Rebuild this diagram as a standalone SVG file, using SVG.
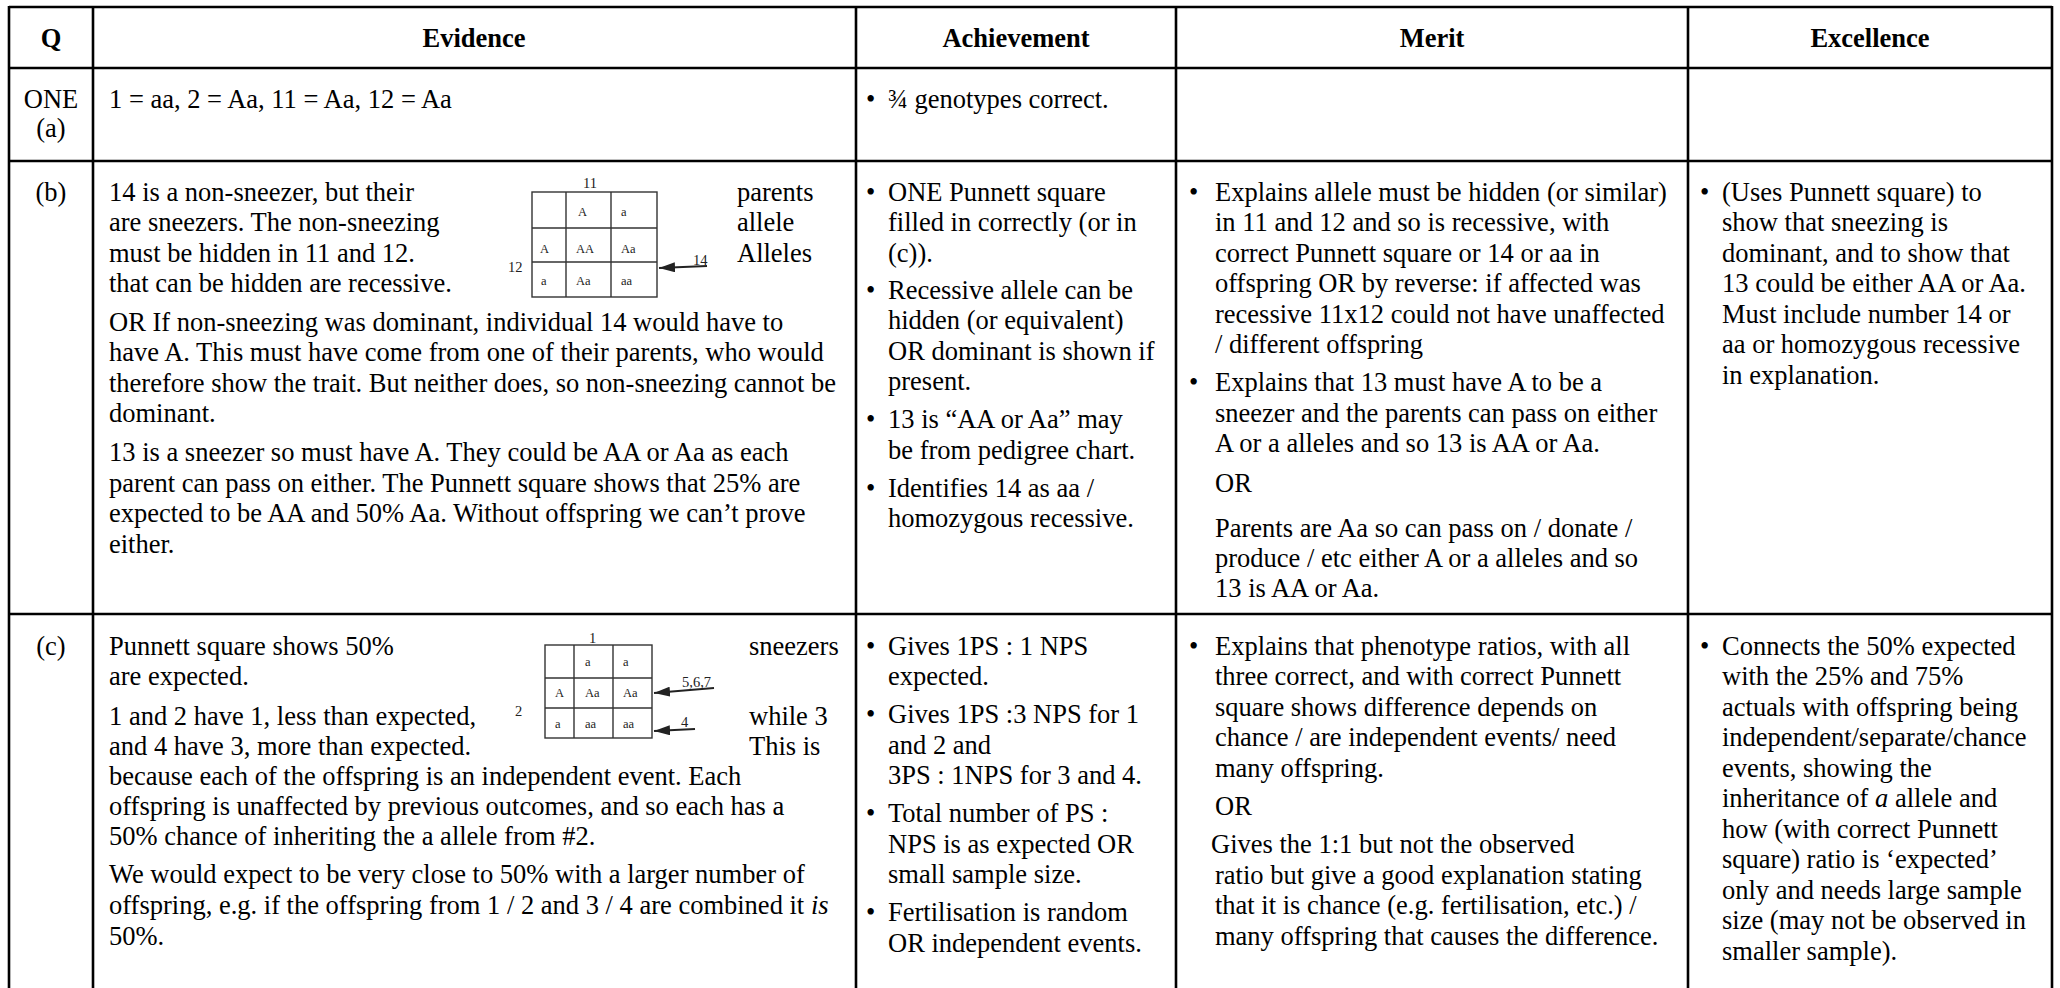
<svg xmlns="http://www.w3.org/2000/svg" width="2060" height="988" viewBox="0 0 2060 988">
<style>
.t{font-family:"Liberation Serif","Times New Roman",serif;font-size:26.5px;fill:#000}
.h{font-weight:bold;text-anchor:middle}
.m{text-anchor:middle}
.g{stroke:#000;stroke-width:2.6;fill:none}
.pg{stroke:#333;stroke-width:1.4;fill:none}
.ps{font-family:"Liberation Serif","Times New Roman",serif;font-size:12.5px;fill:#222}
.lb{font-family:"Liberation Serif","Times New Roman",serif;font-size:14.5px;fill:#222}
.ar{stroke:#222;stroke-width:2;fill:none;marker-end:url(#ah)}
</style>
<defs>
<marker id="ah" markerUnits="userSpaceOnUse" markerWidth="16" markerHeight="10" refX="16" refY="5" orient="auto">
<path d="M0,0 L16,5 L0,10 z" fill="#222"/>
</marker>
</defs>
<rect width="2060" height="988" fill="#fff"/>
<g id="grid" class="g">
<line x1="9" y1="7" x2="2052" y2="7"/>
<line x1="9" y1="68" x2="2052" y2="68"/>
<line x1="9" y1="161" x2="2052" y2="161"/>
<line x1="9" y1="614" x2="2052" y2="614"/>
<line x1="9" y1="6" x2="9" y2="988"/>
<line x1="93" y1="6" x2="93" y2="988"/>
<line x1="856" y1="6" x2="856" y2="988"/>
<line x1="1176" y1="6" x2="1176" y2="988"/>
<line x1="1688" y1="6" x2="1688" y2="988"/>
<line x1="2052" y1="6" x2="2052" y2="988"/>
</g>
<g id="header" class="t h">
<text x="51" y="47">Q</text>
<text x="474" y="47">Evidence</text>
<text x="1016" y="47">Achievement</text>
<text x="1432" y="47">Merit</text>
<text x="1870" y="47">Excellence</text>
</g>
<g id="q-labels" class="t m">
<text x="51" y="108">ONE</text>
<text x="51" y="137">(a)</text>
<text x="51" y="201">(b)</text>
<text x="51" y="655">(c)</text>
</g>
<g id="ev-a" class="t">
<text x="109" y="108">1 = aa, 2 = Aa, 11 = Aa, 12 = Aa</text>
</g>
<g id="ach-a" class="t">
<text x="866" y="108">•</text>
<text x="888" y="108">¾ genotypes correct.</text>
</g>
<g id="ev-b" class="t">
<text x="109" y="201">14 is a non-sneezer, but their</text>
<text x="109" y="231">are sneezers. The non-sneezing</text>
<text x="109" y="262">must be hidden in 11 and 12.</text>
<text x="109" y="292">that can be hidden are recessive.</text>
<text x="737" y="201">parents</text>
<text x="737" y="231">allele</text>
<text x="737" y="262">Alleles</text>
<text x="109" y="331">OR If non-sneezing was dominant, individual 14 would have to</text>
<text x="109" y="361">have A. This must have come from one of their parents, who would</text>
<text x="109" y="392">therefore show the trait. But neither does, so non-sneezing cannot be</text>
<text x="109" y="422">dominant.</text>
<text x="109" y="461">13 is a sneezer so must have A. They could be AA or Aa as each</text>
<text x="109" y="492">parent can pass on either. The Punnett square shows that 25% are</text>
<text x="109" y="522">expected to be AA and 50% Aa. Without offspring we can’t prove</text>
<text x="109" y="553">either.</text>
</g>
<g id="punnett-b">
<g class="pg">
<rect x="532" y="192" width="125" height="105"/>
<line x1="566" y1="192" x2="566" y2="297"/>
<line x1="611" y1="192" x2="611" y2="297"/>
<line x1="532" y1="228" x2="657" y2="228"/>
<line x1="532" y1="262" x2="657" y2="262"/>
</g>
<g class="ps">
<text x="578" y="216">A</text>
<text x="621" y="216">a</text>
<text x="540" y="253">A</text>
<text x="576" y="253">AA</text>
<text x="621" y="253">Aa</text>
<text x="541" y="285">a</text>
<text x="576" y="285">Aa</text>
<text x="621" y="285">aa</text>
</g>
<g class="lb">
<text x="583" y="188">11</text>
<text x="508" y="272">12</text>
<text x="693" y="265">14</text>
</g>
</g>
<g id="ev-c" class="t">
<text x="109" y="655">Punnett square shows 50%</text>
<text x="749" y="655">sneezers</text>
<text x="109" y="685">are expected.</text>
<text x="109" y="725">1 and 2 have 1, less than expected,</text>
<text x="749" y="725">while 3</text>
<text x="109" y="755">and 4 have 3, more than expected.</text>
<text x="749" y="755">This is</text>
<text x="109" y="785">because each of the offspring is an independent event. Each</text>
<text x="109" y="815">offspring is unaffected by previous outcomes, and so each has a</text>
<text x="109" y="845">50% chance of inheriting the a allele from #2.</text>
<text x="109" y="883">We would expect to be very close to 50% with a larger number of</text>
<text x="109" y="914">offspring, e.g. if the offspring from 1 / 2 and 3 / 4 are combined it <tspan font-style="italic">is</tspan></text>
<text x="109" y="945">50%.</text>
</g>
<g id="punnett-c">
<g class="pg">
<rect x="545" y="645" width="107" height="93"/>
<line x1="574" y1="645" x2="574" y2="738"/>
<line x1="613" y1="645" x2="613" y2="738"/>
<line x1="545" y1="678" x2="652" y2="678"/>
<line x1="545" y1="708" x2="652" y2="708"/>
</g>
<g class="ps">
<text x="585" y="666">a</text>
<text x="623" y="666">a</text>
<text x="555" y="697">A</text>
<text x="585" y="697">Aa</text>
<text x="623" y="697">Aa</text>
<text x="555" y="728">a</text>
<text x="585" y="728">aa</text>
<text x="623" y="728">aa</text>
</g>
<g class="lb">
<text x="589" y="643">1</text>
<text x="515" y="716">2</text>
<text x="682" y="687">5,6,7</text>
<text x="681" y="727">4</text>
</g>
</g>
<g id="connectors">
<line class="ar" x1="707" y1="266" x2="659" y2="268"/>
<line class="ar" x1="714" y1="688" x2="654" y2="693"/>
<line class="ar" x1="695" y1="729" x2="654" y2="731"/>
</g>
<g id="ach-b" class="t">
<text x="866" y="201">•</text>
<text x="888" y="201">ONE Punnett square</text>
<text x="888" y="231">filled in correctly (or in</text>
<text x="888" y="262">(c)).</text>
<text x="866" y="299">•</text>
<text x="888" y="299">Recessive allele can be</text>
<text x="888" y="329">hidden (or equivalent)</text>
<text x="888" y="360">OR dominant is shown if</text>
<text x="888" y="390">present.</text>
<text x="866" y="428">•</text>
<text x="888" y="428">13 is “AA or Aa” may</text>
<text x="888" y="459">be from pedigree chart.</text>
<text x="866" y="497">•</text>
<text x="888" y="497">Identifies 14 as aa /</text>
<text x="888" y="527">homozygous recessive.</text>
</g>
<g id="merit-b" class="t">
<text x="1189" y="201">•</text>
<text x="1215" y="201">Explains allele must be hidden (or similar)</text>
<text x="1215" y="231">in 11 and 12 and so is recessive, with</text>
<text x="1215" y="262">correct Punnett square or 14 or aa in</text>
<text x="1215" y="292">offspring OR by reverse: if affected was</text>
<text x="1215" y="323">recessive 11x12 could not have unaffected</text>
<text x="1215" y="353">/ different offspring</text>
<text x="1189" y="391">•</text>
<text x="1215" y="391">Explains that 13 must have A to be a</text>
<text x="1215" y="422">sneezer and the parents can pass on either</text>
<text x="1215" y="452">A or a alleles and so 13 is AA or Aa.</text>
<text x="1215" y="492">OR</text>
<text x="1215" y="537">Parents are Aa so can pass on / donate /</text>
<text x="1215" y="567">produce / etc either A or a alleles and so</text>
<text x="1215" y="597">13 is AA or Aa.</text>
</g>
<g id="exc-b" class="t">
<text x="1700" y="201">•</text>
<text x="1722" y="201">(Uses Punnett square) to</text>
<text x="1722" y="231">show that sneezing is</text>
<text x="1722" y="262">dominant, and to show that</text>
<text x="1722" y="292">13 could be either AA or Aa.</text>
<text x="1722" y="323">Must include number 14 or</text>
<text x="1722" y="353">aa or homozygous recessive</text>
<text x="1722" y="384">in explanation.</text>
</g>
<g id="ach-c" class="t">
<text x="866" y="655">•</text>
<text x="888" y="655">Gives 1PS : 1 NPS</text>
<text x="888" y="685">expected.</text>
<text x="866" y="723">•</text>
<text x="888" y="723">Gives 1PS :3 NPS for 1</text>
<text x="888" y="754">and 2 and</text>
<text x="888" y="784">3PS : 1NPS for 3 and 4.</text>
<text x="866" y="822">•</text>
<text x="888" y="822">Total number of PS :</text>
<text x="888" y="853">NPS is as expected OR</text>
<text x="888" y="883">small sample size.</text>
<text x="866" y="921">•</text>
<text x="888" y="921">Fertilisation is random</text>
<text x="888" y="952">OR independent events.</text>
</g>
<g id="merit-c" class="t">
<text x="1189" y="655">•</text>
<text x="1215" y="655">Explains that phenotype ratios, with all</text>
<text x="1215" y="685">three correct, and with correct Punnett</text>
<text x="1215" y="716">square shows difference depends on</text>
<text x="1215" y="746">chance / are independent events/ need</text>
<text x="1215" y="777">many offspring.</text>
<text x="1215" y="815">OR</text>
<text x="1211" y="853">Gives the 1:1 but not the observed</text>
<text x="1215" y="884">ratio but give a good explanation stating</text>
<text x="1215" y="914">that it is chance (e.g. fertilisation, etc.) /</text>
<text x="1215" y="945">many offspring that causes the difference.</text>
</g>
<g id="exc-c" class="t">
<text x="1700" y="655">•</text>
<text x="1722" y="655">Connects the 50% expected</text>
<text x="1722" y="685">with the 25% and 75%</text>
<text x="1722" y="716">actuals with offspring being</text>
<text x="1722" y="746">independent/separate/chance</text>
<text x="1722" y="777">events, showing the</text>
<text x="1722" y="807">inheritance of <tspan font-style="italic">a</tspan> allele and</text>
<text x="1722" y="838">how (with correct Punnett</text>
<text x="1722" y="868">square) ratio is ‘expected’</text>
<text x="1722" y="899">only and needs large sample</text>
<text x="1722" y="929">size (may not be observed in</text>
<text x="1722" y="960">smaller sample).</text>
</g>
</svg>
